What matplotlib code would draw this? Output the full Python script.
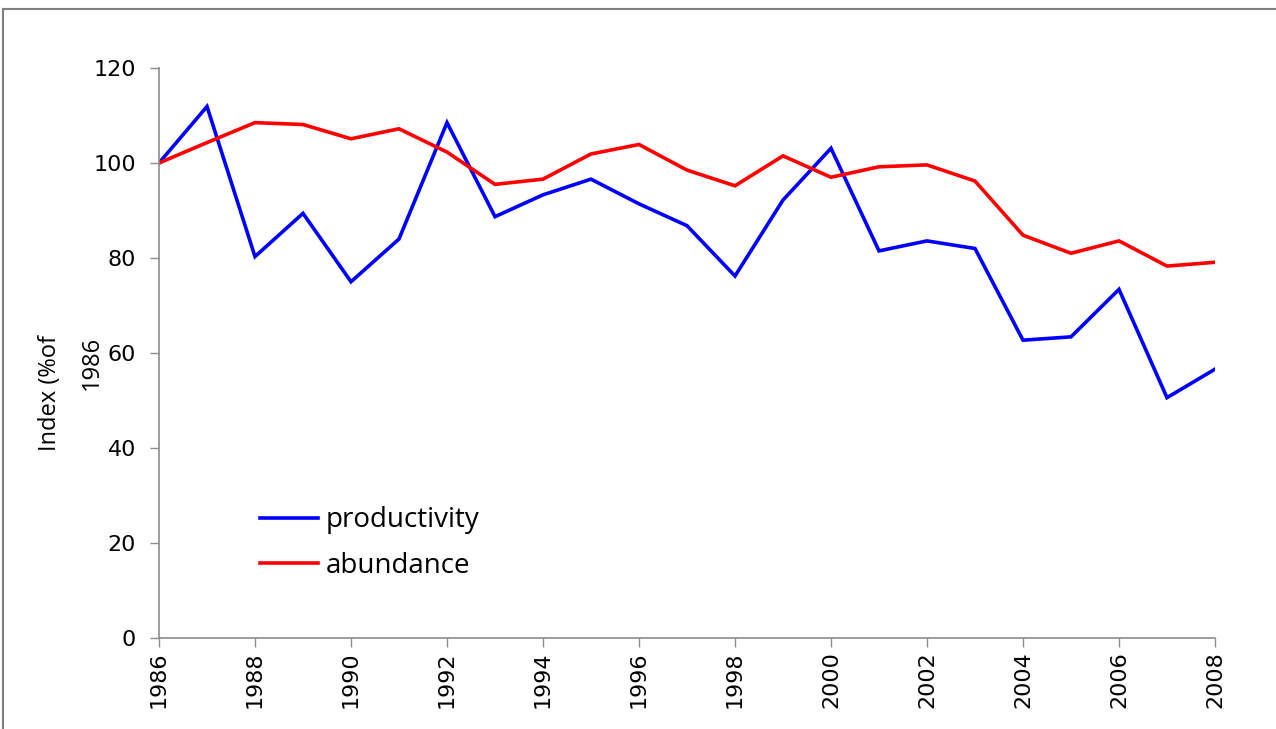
import matplotlib
matplotlib.use("Agg")
import matplotlib.pyplot as plt
from matplotlib.patches import Rectangle

years = list(range(1986, 2009))
productivity = [100, 111.9, 80.3, 89.4, 75.0, 84.0, 108.5, 88.7, 93.3, 96.6, 91.4, 86.8,
                76.2, 92.2, 103.1, 81.5, 83.6, 82.0, 62.7, 63.4, 73.4, 50.6, 56.6]
abundance = [100, 104.3, 108.5, 108.1, 105.1, 107.2, 102.3, 95.5, 96.6, 101.9, 103.9, 98.5,
             95.2, 101.5, 97.0, 99.2, 99.6, 96.2, 84.8, 81.0, 83.6, 78.3, 79.1]
xticks = list(range(1986, 2009, 2))
yticks = [0, 20, 40, 60, 80, 100, 120]

W, H = 1276, 729
fig = plt.figure(figsize=(W / 100, H / 100), dpi=100)
ax = fig.add_axes([159 / W, 1 - 638 / H, (1215 - 159) / W, (638 - 68) / H])

ax.plot(years, productivity, color="#0000ff", lw=2.6, label="productivity", solid_joinstyle="miter")
ax.plot(years, abundance, color="#ff0000", lw=2.6, label="abundance", solid_joinstyle="miter")

ax.set_xlim(1986, 2008)
ax.set_ylim(0, 120)
ax.set_xticks(xticks)
ax.set_xticklabels([str(y) for y in xticks], rotation=90, fontsize=16, family="DejaVu Sans")
ax.set_yticks(yticks)
ax.set_yticklabels([str(v) for v in yticks], fontsize=16, family="DejaVu Sans")

for s in ["top", "right"]:
    ax.spines[s].set_visible(False)
for s in ["left", "bottom"]:
    ax.spines[s].set_color("#8c8c8c")
    ax.spines[s].set_linewidth(1.2)
ax.tick_params(axis="y", direction="out", length=6.5, width=1, color="#8c8c8c", pad=10)
ax.tick_params(axis="x", direction="out", length=6.5, width=1, color="#8c8c8c", pad=3)

leg = ax.legend(loc="center left", bbox_to_anchor=(259.5 / W, 1 - 543 / H),
                bbox_transform=fig.transFigure, frameon=False,
                prop={"family": "Open Sans", "size": 20},
                handlelength=2.1, handletextpad=0.28, labelspacing=0.63,
                borderpad=0, borderaxespad=0)

fig.text(50 / W, 1 - 393 / H, "Index (%of", rotation=90, ha="center", va="center",
         fontsize=17, family="Open Sans")
fig.text(92 / W, 1 - 363 / H, "1986", rotation=90, ha="center", va="center",
         fontsize=17, family="Open Sans")

# outer frame border
fig.patches.append(Rectangle((3 / W, -0.1), 1.2, 1 - 9 / H + 0.1, transform=fig.transFigure,
                             fill=False, edgecolor="#7f7f7f", linewidth=1.5))

fig.savefig("out.png", dpi=100)
